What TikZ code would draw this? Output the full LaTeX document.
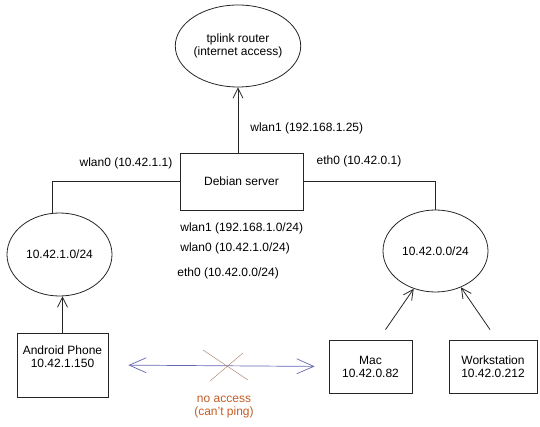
\documentclass[tikz,border=0pt]{standalone}
\usepackage{fontspec}
\setmainfont{Liberation Sans}
\usepackage{tikz}
\usetikzlibrary{shapes,arrows.meta,positioning,calc}
\definecolor{pingblue}{RGB}{98,104,178}
\definecolor{crossbrown}{RGB}{175,138,118}
\definecolor{noteorange}{RGB}{196,92,40}

\begin{document}
\begin{tikzpicture}[x=1pt,y=-1pt,line width=0.8pt,
			font=\fontsize{12}{13}\selectfont,
			net node/.style={ellipse, draw=black!85, align=center, inner sep=0pt},
			host node/.style={rectangle, draw=black!85, align=center, text=black},
			lbl node/.style={text=black, inner sep=0pt},
			link/.style={draw=black!85},
			up arrow/.style={draw=black!85, -{Straight Barb[length=10pt,width=10pt]}}]
			\useasboundingbox (0,0) rectangle (540,427);
			
			% networks
			\node[net node, minimum width=106pt, minimum height=82pt] (router) at (238,46) {tplink router\\(internet access)};
			\node[net node, minimum width=105pt, minimum height=83pt] (lan1) at (59.5,254.5) {10.42.1.0/24};
			\node[net node, minimum width=105pt, minimum height=82pt] (lan0) at (435.5,251) {10.42.0.0/24};
			
			% machines
			\node[host node, minimum width=123pt, minimum height=57pt] (server) at (241.5,181.5) {Debian server};
			\node[host node, minimum width=91pt, minimum height=64pt, text depth=17pt] (phone) at (62.5,365) {Android Phone\\10.42.1.150};
			\node[host node, minimum width=83pt, minimum height=53pt] (mac) at (370.5,366.5) {Mac\\10.42.0.82};
			\node[host node, minimum width=88pt, minimum height=53pt] (wks) at (493,366.5) {Workstation\\10.42.0.212};
			
			% interface labels
			\node[lbl node, anchor=west] (wlanup) at (250,128) {wlan1 (192.168.1.25)};
			\node[lbl node] (wlanleft) at (126,163) {wlan0 (10.42.1.1)};
			\node[lbl node] (ethright) at (359,161) {eth0 (10.42.0.1)};
			\node[lbl node, anchor=west] (route1) at (180,228) {wlan1 (192.168.1.0/24)};
			\node[lbl node, anchor=west] (route2) at (180,248) {wlan0 (10.42.1.0/24)};
			\node[lbl node, anchor=west] (route3) at (177,273) {eth0 (10.42.0.0/24)};
			
			\draw[link] (server.west) -| (lan1.100);
			\draw[link] (server.east) -| (lan0.north);
			\draw[up arrow] (router.south |- server.north) -- (router.south);
			\draw[up arrow] (phone.north) -- (phone.north |- lan1.south);
			\draw[up arrow] ([xshift=15pt,yshift=10pt]mac.north) -- (lan0.240);
			\draw[up arrow] ([xshift=-3pt,yshift=10pt]wks.north) -- (lan0.305);
			
			% no route between the two subnets
			\draw[pingblue, line width=0.7pt, {Straight Barb[length=17pt,width=15pt]}-{Straight Barb[length=17pt,width=15pt]}, shorten <=20pt, shorten >=14pt] (phone.east) -- (mac.west);
			\coordinate (nogo) at (226,365);
			\draw[crossbrown, line width=0.5pt] ($(nogo)+(-23,-15)$) -- ($(nogo)+(22,15)$)
			($(nogo)+(17,-12)$) -- ($(nogo)+(-16,16)$);
			\node[text=noteorange, align=center] (note) at (224,407) {no access\\(can't ping)};
			
		\end{tikzpicture}
\end{document}
